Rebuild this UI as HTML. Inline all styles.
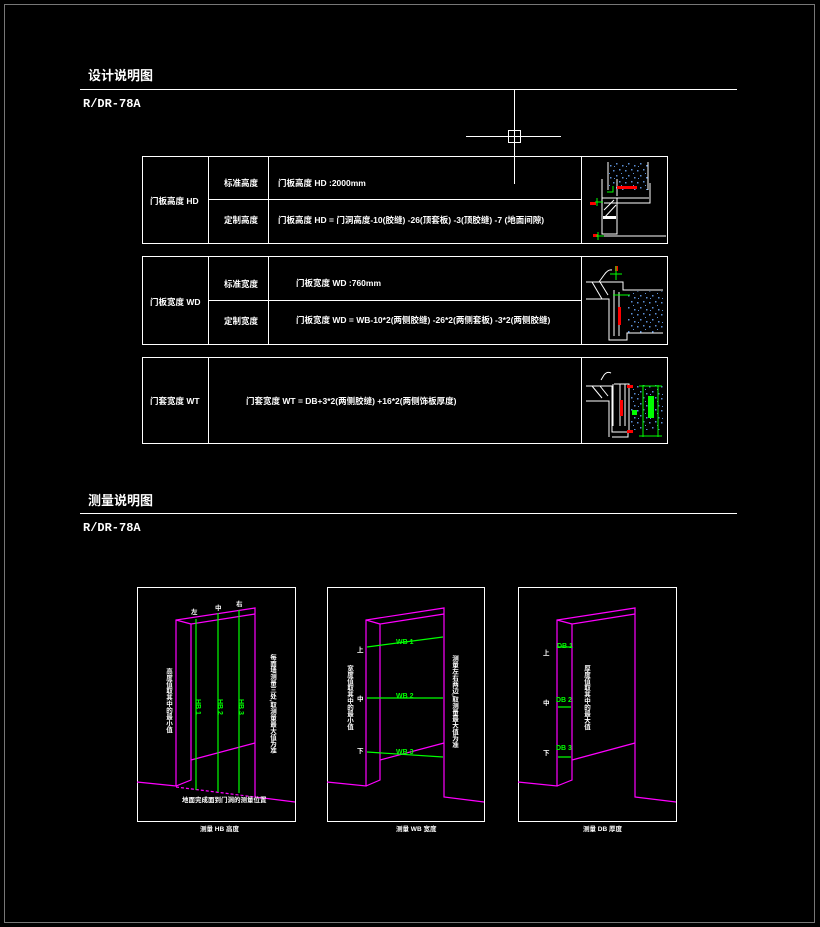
<!DOCTYPE html>
<html><head><meta charset="utf-8"><style>
html,body{margin:0;padding:0;background:#000;}
svg{display:block;}
text{font-family:"Liberation Sans","Noto Sans CJK SC",sans-serif;fill:#fff;}
</style></head><body>
<svg width="820" height="927" viewBox="0 0 820 927" xmlns="http://www.w3.org/2000/svg">
<defs>
<pattern id="spk" width="12" height="12" patternUnits="userSpaceOnUse">
<rect x="1" y="2" width="1.5" height="1.5" fill="#5b8fd6"/><rect x="7" y="1" width="1.5" height="1.5" fill="#5b8fd6"/>
<rect x="4" y="7" width="1.5" height="1.5" fill="#5b8fd6"/><rect x="10" y="9" width="1.5" height="1.5" fill="#5b8fd6"/>
<rect x="2" y="10" width="1" height="1" fill="#5b8fd6"/><rect x="9" y="5" width="1" height="1" fill="#5b8fd6"/>
</pattern>
</defs>
<rect x="4.5" y="4.5" width="810" height="918" fill="none" stroke="#777" stroke-width="1"/>
<text x="88" y="80" font-size="13" font-weight="bold">设计说明图</text>
<line x1="80" y1="89.5" x2="737" y2="89.5" stroke="#fff"/>
<text x="83" y="107" font-size="12" font-weight="bold" style="font-family:'Liberation Mono',monospace">R/DR-78A</text>
<line x1="514.5" y1="90" x2="514.5" y2="184" stroke="#fff"/>
<line x1="466" y1="136.5" x2="561" y2="136.5" stroke="#fff"/>
<rect x="508.5" y="130.5" width="12" height="12" fill="none" stroke="#fff"/>
<g stroke="#fff" fill="none">
<rect x="142.5" y="156.5" width="525" height="87"/>
<line x1="208.5" y1="156" x2="208.5" y2="244"/><line x1="268.5" y1="156" x2="268.5" y2="244"/><line x1="581.5" y1="156" x2="581.5" y2="244"/>
<line x1="208" y1="199.5" x2="581" y2="199.5"/>
<rect x="142.5" y="256.5" width="525" height="88"/>
<line x1="208.5" y1="256" x2="208.5" y2="345"/><line x1="268.5" y1="256" x2="268.5" y2="345"/><line x1="581.5" y1="256" x2="581.5" y2="345"/>
<line x1="208" y1="300.5" x2="581" y2="300.5"/>
<rect x="142.5" y="357.5" width="525" height="86"/>
<line x1="208.5" y1="357" x2="208.5" y2="444"/><line x1="581.5" y1="357" x2="581.5" y2="444"/>
</g>
<g font-size="8.5" font-weight="bold">
<text x="150" y="204">门板高度 HD</text>
<text x="224" y="186">标准高度</text><text x="278" y="186">门板高度 HD :2000mm</text>
<text x="224" y="223">定制高度</text><text x="278" y="223">门板高度 HD = 门洞高度-10(胶缝) -26(顶套板) -3(顶胶缝) -7 (地面间隙)</text>
<text x="150" y="305">门板宽度 WD</text>
<text x="224" y="287">标准宽度</text><text x="296" y="286">门板宽度 WD :760mm</text>
<text x="224" y="324">定制宽度</text><text x="296" y="323">门板宽度 WD = WB-10*2(两侧胶缝) -26*2(两侧套板) -3*2(两侧胶缝)</text>
<text x="150" y="404">门套宽度 WT</text>
<text x="246" y="404">门套宽度 WT = DB+3*2(两侧胶缝) +16*2(两侧饰板厚度)</text>
</g>
<g stroke="#fff" fill="none">
<rect x="608" y="162" width="40" height="28" fill="url(#spk)" stroke="none"/>
<path d="M608 162V190M648 162V190"/>
<path d="M602 179V198H649M602 198V234H617V198M617 196V179M650 183V203H604"/>
<path d="M596 236H666"/>
<line x1="604" y1="210" x2="614" y2="200"/><line x1="604" y1="218" x2="616" y2="205"/>
</g>
<rect x="603" y="216" width="13" height="3" fill="#fff"/>
<rect x="617" y="186" width="20" height="3" fill="#f00"/>
<rect x="590" y="202" width="6" height="3" fill="#f00"/><rect x="593" y="234" width="5" height="3" fill="#f00"/>
<g stroke="#0f0"><path d="M595 202H603M597 198V206M596 236H604M598 232V240M607 192H613V186"/></g>
<g stroke="#fff" fill="none">
<rect x="627" y="291" width="36" height="42" fill="url(#spk)" stroke="none"/>
<path d="M586 282H623V290H663M586 299H609V340H627V333H663M614 290V336M619 292V336M599 282L604 275Q608 269 612 270"/>
<line x1="592" y1="282" x2="602" y2="299"/><line x1="600" y1="282" x2="608" y2="295"/>
</g>
<rect x="618" y="307" width="3" height="18" fill="#f00"/><rect x="615" y="266" width="3" height="5" fill="#f00"/>
<g stroke="#0f0"><path d="M616 266V280M610 274H622M613 295H630"/></g>
<g stroke="#fff" fill="none">
<rect x="629" y="384" width="34" height="46" fill="url(#spk)" stroke="none"/>
<path d="M586 386H612V432H628V437H612M586 401H609V437M612 386V392M613 384V426M620 384V426M625 384V426M601 380L604 375Q607 371 611 373"/>
<path d="M614 384H629V430"/>
<line x1="592" y1="386" x2="602" y2="398"/><line x1="600" y1="386" x2="608" y2="396"/>
</g>
<rect x="620" y="400" width="3" height="16" fill="#f00"/>
<rect x="627" y="385" width="6" height="3" fill="#f00"/><rect x="627" y="430" width="6" height="3" fill="#f00"/>
<g stroke="#0f0" fill="none"><path d="M643 385V437M658 385V437M639 386H662M639 436H662"/></g>
<rect x="648" y="396" width="6" height="22" fill="#0f0"/><rect x="632" y="410" width="5" height="5" fill="#0f0"/>
<text x="88" y="505" font-size="13" font-weight="bold">测量说明图</text>
<line x1="80" y1="513.5" x2="737" y2="513.5" stroke="#fff"/>
<text x="83" y="531" font-size="12" font-weight="bold" style="font-family:'Liberation Mono',monospace">R/DR-78A</text>
<g stroke="#fff" fill="none">
<rect x="137.5" y="587.5" width="158" height="234"/>
<rect x="327.5" y="587.5" width="157" height="234"/>
<rect x="518.5" y="587.5" width="158" height="234"/>
</g>
<g stroke="#f0f" fill="none" stroke-width="1.2">
<path d="M137 782L176 786L191 780V624L255 614V608L176 620V786M191 624L176 620M191 760L255 743M255 608V797L295 802"/>
<path d="M176 787L255 797" stroke-dasharray="3 2"/>
<path d="M327 782L366 786V620L444 608V797L484 802M366 786L380 780V624L444 614M366 620L380 624M380 760L444 743"/>
<path d="M518 782L557 786V620L635 608V797L676 802M557 786L572 780V624L635 614M557 620L572 624M572 760L635 743"/>
</g>
<g stroke="#0f0" stroke-width="1.2">
<path d="M196 619V790M218 613V792M239 610V793"/>
<path d="M367 647L443 637M367 698L443 698M367 752L443 757"/>
<path d="M557 647H572M558 707H571M558 757H571"/>
</g>
<g font-size="7" font-weight="bold">
<text x="192" y="703" transform="rotate(90 196 703)" style="fill:#0f0">HB 1</text>
<text x="214" y="703" transform="rotate(90 218 703)" style="fill:#0f0">HB 2</text>
<text x="235" y="703" transform="rotate(90 239 703)" style="fill:#0f0">HB 3</text>
<text x="396" y="644" style="fill:#0f0">WB 1</text>
<text x="396" y="698" style="fill:#0f0">WB 2</text>
<text x="396" y="754" style="fill:#0f0">WB 3</text>
<text x="557" y="648" style="fill:#0f0">DB 1</text>
<text x="556" y="702" style="fill:#0f0">DB 2</text>
<text x="556" y="750" style="fill:#0f0">DB 3</text>
</g>
<g font-size="6.5" font-weight="bold">
<text x="191" y="614">左</text><text x="215" y="610">中</text><text x="236" y="606">右</text>
<text x="357" y="652">上</text><text x="357" y="701">中</text><text x="357" y="753">下</text>
<text x="543" y="655">上</text><text x="543" y="705">中</text><text x="543" y="755">下</text>
<text x="182" y="802">地面完成面到门洞的测量位置</text>
<text x="200" y="831">测量 HB 高度</text>
<text x="396" y="831">测量 WB 宽度</text>
<text x="583" y="831">测量 DB 厚度</text>
</g>
<g font-size="6.5" font-weight="bold">
<text x="168" y="668" style="writing-mode:tb">高度值取其中的最小值</text>
<text x="272" y="654" style="writing-mode:tb">每面墙测量三处,取测量最大值为准</text>
<text x="349" y="665" style="writing-mode:tb">宽度值取其中的最小值</text>
<text x="454" y="655" style="writing-mode:tb">测量左右两边,取测量最大值为准</text>
<text x="586" y="665" style="writing-mode:tb">厚度值取其中的最大值</text>
</g>
</svg>
</body></html>
